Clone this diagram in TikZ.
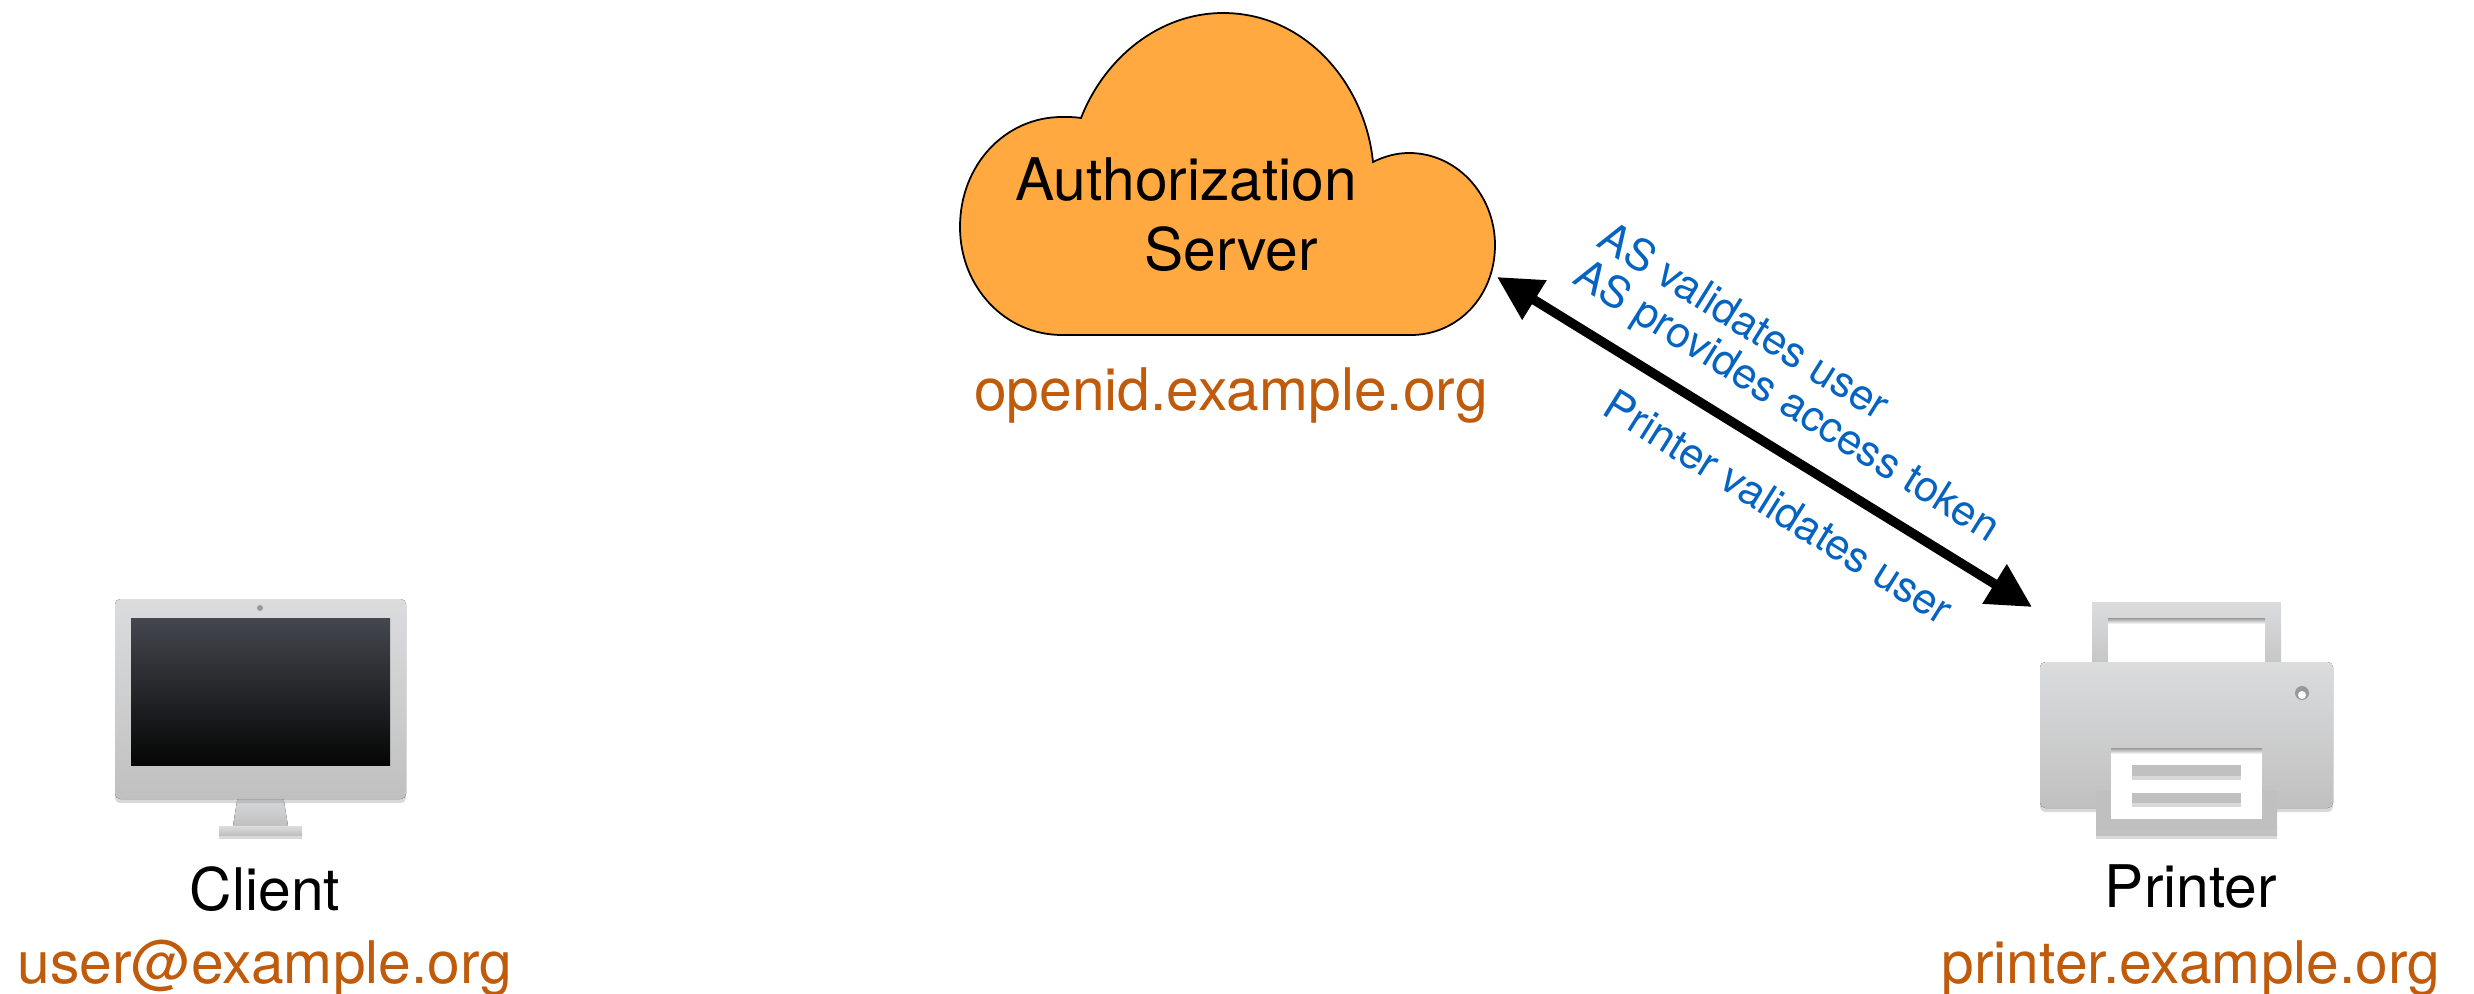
\documentclass[tikz,border=0pt]{standalone}
\usepackage{fontspec}
\setmainfont{TeX Gyre Heros}
\usetikzlibrary{arrows.meta,shadows}

\definecolor{cloudorange}{HTML}{FFA940}
\definecolor{domainbrown}{HTML}{BF5B0B}
\definecolor{stepblue}{HTML}{0563C1}
\definecolor{devicetop}{HTML}{DBDCDE}
\definecolor{devicebottom}{HTML}{C0C0C0}
\definecolor{screentop}{HTML}{44474E}
\definecolor{screenbottom}{HTML}{050505}

\tikzset{
  hostname/.style={anchor=base, text=black, font=\fontsize{16.7}{20}\selectfont, inner sep=0pt},
  domainname/.style={anchor=base, text=domainbrown, font=\fontsize{16.7}{20}\selectfont, inner sep=0pt},
  steplabel/.style={anchor=center, text=stepblue, rotate=-32, font=\fontsize{12.2}{15}\selectfont, inner sep=0pt},
  device/.style={top color=devicetop, bottom color=devicebottom, draw=none},
  soft/.style={drop shadow={shadow xshift=0pt, shadow yshift=-1.2pt, opacity=0.3}},
}

\begin{document}
\begin{tikzpicture}[x=0.01cm,y=-0.01cm]
        \useasboundingbox (0,0) rectangle (2474,994);

        % Cloud
        \draw[fill=cloudorange, line width=0.5pt] (1081,118)
            .. controls (1105,57) and (1160,13) .. (1223,13)
            .. controls (1305,13) and (1365,83) .. (1373,162)
            .. controls (1385,156) and (1397,153) .. (1409,153)
            .. controls (1457,153) and (1495,195) .. (1495,245)
            .. controls (1495,297) and (1457,335) .. (1411,335)
            -- (1062,335)
            .. controls (1005,335) and (960,287) .. (960,227)
            .. controls (960,165) and (1005,117) .. (1062,117)
            .. controls (1069,117) and (1075,117) .. (1081,118) -- cycle;
        \node[hostname] (auth) at (1186,201) {Authorization};
        \node[hostname] (server) at (1231,271) {Server};
        \node[domainname] (openid) at (1231,410) {openid.example.org};

        % Client
        \fill[device, soft] (238,795) -- (283,795) -- (288,826) -- (233,826) -- cycle;
        \fill[device, soft] (219,826) rectangle (302,835);
        \fill[device, soft, rounded corners=1.5pt] (115,599) rectangle (406,799);
        \fill[top color=screentop, bottom color=screenbottom] (131,618) rectangle (390,765);
        \fill[gray!80] (260,608) circle (3);
        \node[hostname] (client) at (265,910) {Client};
        \node[domainname] (user) at (265,983) {user@example.org};

        % Printer
        \fill[device, soft] (2092,602) rectangle (2281,680);
        \fill[white] (2108,618) rectangle (2265,662);
        \fill[top color=gray!80, bottom color=white] (2108,618) rectangle (2265,624);
        \fill[device, soft] (2096,780) rectangle (2277,835);
        \fill[device, soft, rounded corners=1.5pt] (2040,662) rectangle (2333,808);
        \fill[devicebottom] (2096,790) rectangle (2277,830);
        \fill[white] (2111,748) rectangle (2262,819);
        \fill[top color=gray!80, bottom color=white] (2111,748) rectangle (2262,754);
        \fill[devicebottom, soft] (2132,765) rectangle (2241,776);
        \fill[devicebottom, soft] (2132,793) rectangle (2241,803);
        \fill[gray!80] (2302,693) circle (7);
        \fill[white] (2302,695) circle (4);
        \node[hostname] (printer) at (2191,907) {Printer};
        \node[domainname] (printerdomain) at (2191,983) {printer.example.org};

        % Arrow
        \coordinate (cloudtip) at (1497,277);
        \coordinate (printertip) at (2032,607);
        \draw[{Triangle[length=0.44cm,width=0.44cm]}-{Triangle[length=0.44cm,width=0.44cm]}, line width=0.095cm] (cloudtip) -- (printertip);
        \node[steplabel] (asvalidates) at (1745,320) {AS validates user};
        \node[steplabel] (astoken) at (1786,403) {AS provides access token};
        \node[steplabel] (printervalidates) at (1779,507) {Printer validates user};
    \end{tikzpicture}
\end{document}
